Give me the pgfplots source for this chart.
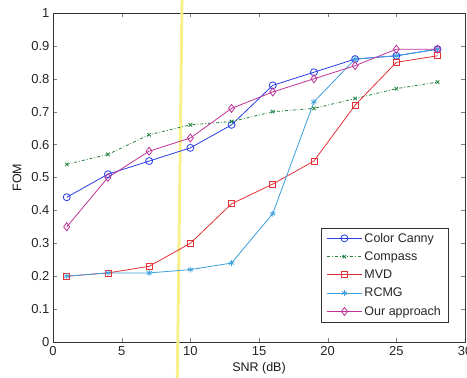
\documentclass[border=0pt]{standalone}
\usepackage{pgfplots}
\pgfplotsset{compat=1.18}
\usepackage{fontspec}
\setmainfont{Liberation Sans}
\definecolor{cblue}{RGB}{40,60,230}
\definecolor{cgreen}{RGB}{30,130,60}
\definecolor{cred}{RGB}{225,50,55}
\definecolor{clblue}{RGB}{60,160,220}
\definecolor{cmag}{RGB}{190,50,150}
\definecolor{cyel}{RGB}{248,240,140}
\begin{document}
\begin{tikzpicture}
\begin{axis}[
  name=ax,
  scale only axis, width=412pt, height=329pt,
  xmin=0, xmax=30, ymin=0, ymax=1,
  xtick={0,5,...,30}, ytick={0,0.1,...,1},
  yticklabels={0,0.1,0.2,0.3,0.4,0.5,0.6,0.7,0.8,0.9,1},
  tick align=inside, tick pos=both,
  major tick length=4pt,
  /pgf/number format/assume math mode=true,
  ticklabel style={font=\fontsize{13}{15}\selectfont, text=black!85},
  xticklabel style={yshift=-1pt},
  xlabel={SNR (dB)}, ylabel={FOM},
  label style={font=\fontsize{12.5}{15}\selectfont, text=black!90},
  xlabel style={yshift=0pt},
  ylabel style={yshift=3pt},
  clip=false,
  legend style={at={(0.959,0.061)}, anchor=south east, font=\fontsize{12.5}{15}\selectfont,
    draw=black!80, row sep=4pt, inner xsep=5pt, inner ysep=3pt, text=black!85},
  legend cell align=left,
  legend image code/.code={\draw[mark repeat=2,mark phase=2] plot coordinates {(0cm,0cm)(0.62cm,0cm)(1.24cm,0cm)};},
  every axis plot/.append style={line width=0.8pt},
  axis line style={black!80},
]
\addplot[cyel, line width=3pt, forget plot] coordinates {(9.4,1.05) (9.05,-0.12)};
\addplot[cblue, mark=o, mark size=3.5pt] coordinates {
(1,0.44) (4,0.51) (7,0.55) (10,0.59) (13,0.66) (16,0.78) (19,0.82) (22,0.86) (25,0.87) (28,0.89)};
\addlegendentry{Color Canny}
\addplot[cgreen, dashdotted, mark=x, mark size=2.5pt, mark options={solid}] coordinates {
(1,0.54) (4,0.57) (7,0.63) (10,0.66) (13,0.67) (16,0.70) (19,0.71) (22,0.74) (25,0.77) (28,0.79)};
\addlegendentry{Compass}
\addplot[cred, mark=square, mark size=3pt] coordinates {
(1,0.20) (4,0.21) (7,0.23) (10,0.30) (13,0.42) (16,0.48) (19,0.55) (22,0.72) (25,0.85) (28,0.87)};
\addlegendentry{MVD}
\addplot[clblue, mark=asterisk, mark size=3pt] coordinates {
(1,0.20) (4,0.21) (7,0.21) (10,0.22) (13,0.24) (16,0.39) (19,0.73) (22,0.86) (25,0.87) (28,0.89)};
\addlegendentry{RCMG}
\addplot[cmag, mark=diamond, mark size=4pt] coordinates {
(1,0.35) (4,0.50) (7,0.58) (10,0.62) (13,0.71) (16,0.76) (19,0.80) (22,0.84) (25,0.89) (28,0.89)};
\addlegendentry{Our approach}
\end{axis}
\pgfresetboundingbox
\path[use as bounding box] ([shift={(-53pt,-35pt)}]ax.south west) rectangle ([shift={(2pt,13pt)}]ax.north east);
\end{tikzpicture}
\end{document}
